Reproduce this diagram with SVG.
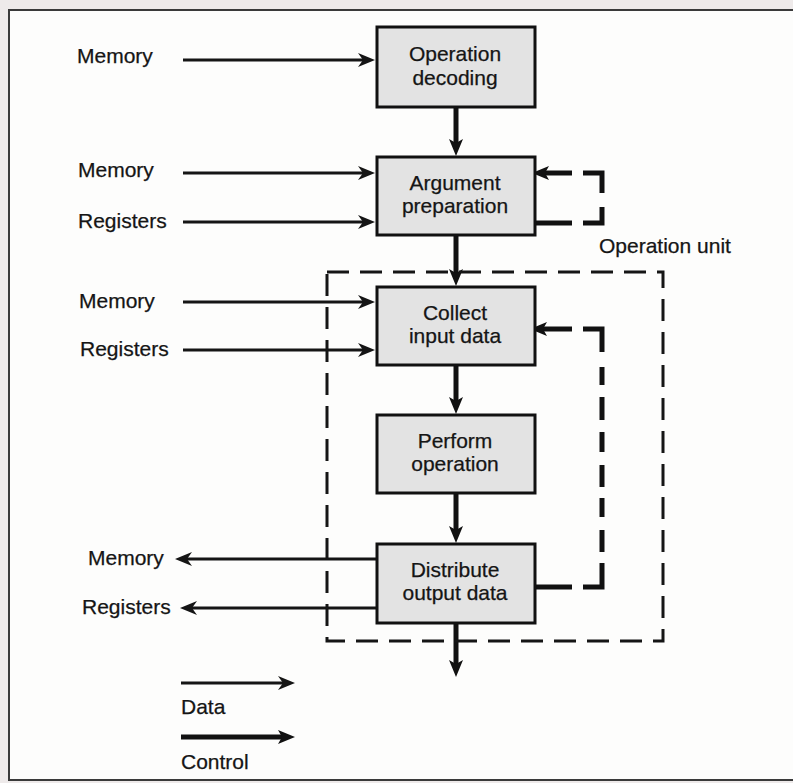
<svg xmlns="http://www.w3.org/2000/svg" width="793" height="783" viewBox="0 0 793 783">
<style>
  text { font-family: "Liberation Sans", Arial, Helvetica, sans-serif; font-size: 21px; fill: #151515; stroke: #151515; stroke-width: 0.25; }
  .box { fill: #e3e3e3; stroke: #111; stroke-width: 3; }
  .c { text-anchor: middle; }
  .data { fill: none; stroke: #151515; stroke-width: 2.8; }
  .ctrl { fill: none; stroke: #111; stroke-width: 5; }
  .loop { fill: none; stroke: #111; stroke-width: 5; stroke-linejoin: miter; stroke-linecap: butt; }
  .unit { fill: none; stroke: #151515; stroke-width: 3; stroke-dasharray: 22 11; }
</style>
<defs>
  <marker id="ad" markerUnits="userSpaceOnUse" viewBox="0 -8 18 16" markerWidth="18" markerHeight="16" refX="6" refY="0" orient="auto" overflow="visible">
    <path d="M0,-7 L17,0 L0,7 L5,0 Z" fill="#151515"/>
  </marker>
  <marker id="ac" markerUnits="userSpaceOnUse" viewBox="0 -8 18 16" markerWidth="18" markerHeight="16" refX="5" refY="0" orient="auto" overflow="visible">
    <path d="M0,-7 L17,0 L0,7 L4,0 Z" fill="#111"/>
  </marker>
</defs>
<rect x="0" y="0" width="793" height="783" fill="#eeeaea"/>
<rect x="9" y="10" width="800" height="770" fill="#fdfdfc" stroke="#3a3a3a" stroke-width="2"/>

<g id="connectors">
  <!-- data inputs -->
  <path class="data" d="M183,60 H364" marker-end="url(#ad)"/>
  <path class="data" d="M183,173 H364" marker-end="url(#ad)"/>
  <path class="data" d="M183,222 H364" marker-end="url(#ad)"/>
  <path class="data" d="M183,302 H364" marker-end="url(#ad)"/>
  <path class="data" d="M183,350 H364" marker-end="url(#ad)"/>
  <!-- data outputs -->
  <path class="data" d="M376,559 H186" marker-end="url(#ad)"/>
  <path class="data" d="M376,608 H191" marker-end="url(#ad)"/>
  <!-- control flow -->
  <path class="ctrl" d="M456,107 V144" marker-end="url(#ac)"/>
  <path class="ctrl" d="M456,235 V274" marker-end="url(#ac)"/>
  <path class="ctrl" d="M456,365 V402" marker-end="url(#ac)"/>
  <path class="ctrl" d="M456,493 V531" marker-end="url(#ac)"/>
  <path class="ctrl" d="M456,623 V665" marker-end="url(#ac)"/>
  <!-- argument loop -->
  <path class="loop" d="M535,223 H572"/>
  <path class="loop" d="M583,223 H602 V207"/>
  <path class="loop" d="M602,193 V173 H583"/>
  <path class="loop" d="M572,173 H544" marker-end="url(#ac)"/>
  <!-- collect loop -->
  <path class="loop" d="M535,587 H572"/>
  <path class="loop" d="M583,587 H602 V563"/>
  <path class="loop" d="M602,552 V530 M602,517 V498 M602,487 V465 M602,452 V432 M602,420 V397 M602,385 V367"/>
  <path class="loop" d="M602,352 V329 H583"/>
  <path class="loop" d="M572,329 H542" marker-end="url(#ac)"/>
  <!-- legend arrows -->
  <path class="data" d="M181,683 H284" marker-end="url(#ad)"/>
  <path class="ctrl" d="M181,737 H283" marker-end="url(#ac)"/>
</g>

<g id="operation-unit">
  <path class="unit" d="M327,272 H663 V641 H327 Z"/>
  <text x="599" y="253">Operation unit</text>
</g>

<g id="labels">
  <text x="77" y="63">Memory</text>
  <text x="78" y="177">Memory</text>
  <text x="78" y="228">Registers</text>
  <text x="79" y="308">Memory</text>
  <text x="80" y="356">Registers</text>
  <text x="88" y="565">Memory</text>
  <text x="82" y="614">Registers</text>
</g>

<g id="legend">
  <text x="181" y="714">Data</text>
  <text x="181" y="769">Control</text>
</g>

<g id="op-decoding">
  <rect class="box" x="377" y="27" width="158" height="80"/>
  <text class="c" x="455" y="61">Operation</text>
  <text class="c" x="455" y="85">decoding</text>
</g>
<g id="arg-prep">
  <rect class="box" x="377" y="157" width="158" height="78"/>
  <text class="c" x="455" y="190">Argument</text>
  <text class="c" x="455" y="213">preparation</text>
</g>
<g id="collect">
  <rect class="box" x="377" y="287" width="158" height="78"/>
  <text class="c" x="455" y="320">Collect</text>
  <text class="c" x="455" y="343">input data</text>
</g>
<g id="perform">
  <rect class="box" x="377" y="415" width="158" height="78"/>
  <text class="c" x="455" y="448">Perform</text>
  <text class="c" x="455" y="471">operation</text>
</g>
<g id="distribute">
  <rect class="box" x="377" y="544" width="158" height="79"/>
  <text class="c" x="455" y="577">Distribute</text>
  <text class="c" x="455" y="600">output data</text>
</g>
</svg>
